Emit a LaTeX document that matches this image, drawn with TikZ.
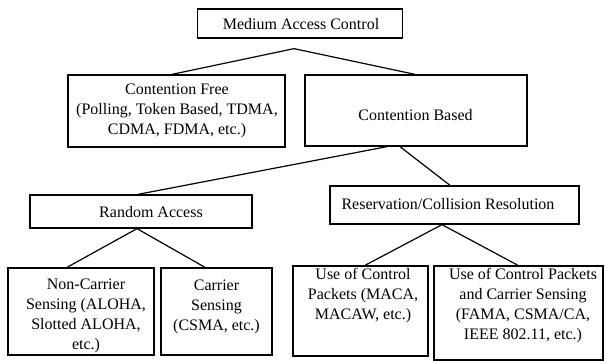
\documentclass[tikz,border=0pt]{standalone}
\usepackage{fontspec}
\setmainfont{Liberation Serif}
\usetikzlibrary{calc}
\begin{document}
\begin{tikzpicture}[x=1pt,y=-1pt,
  box/.style={draw,line width=1.3pt,inner sep=0pt,fill=none},
  txt/.style={align=center,inner sep=0pt,font=\fontsize{16}{20}\selectfont},
  conn/.style={line width=1.2pt}]
\useasboundingbox[fill=white] (0,0) rectangle (606,361);
% boxes
\node[box,minimum width=205pt,minimum height=29pt] (mac) at (300,23.5) {};
\node[box,minimum width=217pt,minimum height=72pt] (cf) at (176.5,111) {};
\node[box,minimum width=222pt,minimum height=71pt] (cb) at (416,110.5) {};
\node[box,minimum width=222pt,minimum height=33pt] (ra) at (141,211.5) {};
\node[box,minimum width=249pt,minimum height=38pt] (res) at (454.5,205) {};
\node[box,minimum width=146pt,minimum height=87pt] (ncs) at (81,311.5) {};
\node[box,minimum width=111pt,minimum height=87pt] (cs) at (216.5,311.5) {};
\node[box,minimum width=135pt,minimum height=90pt] (ucp) at (360.5,311) {};
\node[box,minimum width=169pt,minimum height=94pt] (ucpcs) at (518.5,313) {};
% texts
\node[txt] (tmac) at (301,24) {Medium Access Control};
\node[txt] (tcf) at (177,111) {Contention Free\\(Polling, Token Based, TDMA,\\CDMA, FDMA, etc.)};
\node[txt] (tcb) at (415.5,115) {Contention Based};
\node[txt] (tra) at (151,212) {Random Access};
\node[txt] (tres) at (448,204) {Reservation/Collision Resolution};
\node[txt] (tncs) at (86,316) {Non-Carrier\\Sensing (ALOHA,\\Slotted ALOHA,\\etc.)};
\node[txt] (tcs) at (216.5,307) {Carrier\\Sensing\\(CSMA, etc.)};
\node[txt] (tucp) at (363,296) {Use of Control\\Packets (MACA,\\MACAW, etc.)};
\node[txt] (tucpcs) at (523,306) {Use of Control Packets\\and Carrier Sensing\\(FAMA, CSMA/CA,\\IEEE 802.11, etc.)};
% connectors
\coordinate (a1) at ($(mac.south)+(-6,10)$);
\draw[conn] ([xshift=-4.5pt]cf.north) -- (a1) -- ([xshift=-1pt]cb.north);
\draw[conn] ([xshift=-29pt]cb.south) -- ([xshift=-3pt]ra.north);
\draw[conn] ([xshift=-16pt]cb.south) -- ([xshift=-4.5pt]res.north);
\draw[conn] ([xshift=-14pt]ncs.north) -- ([xshift=-4pt]ra.south) -- ([xshift=-11.5pt]cs.north);
\draw[conn] ([xshift=4.5pt]ucp.north) -- ([xshift=-12.5pt]res.south) -- ([xshift=-0.5pt]ucpcs.north);
\end{tikzpicture}
\end{document}
